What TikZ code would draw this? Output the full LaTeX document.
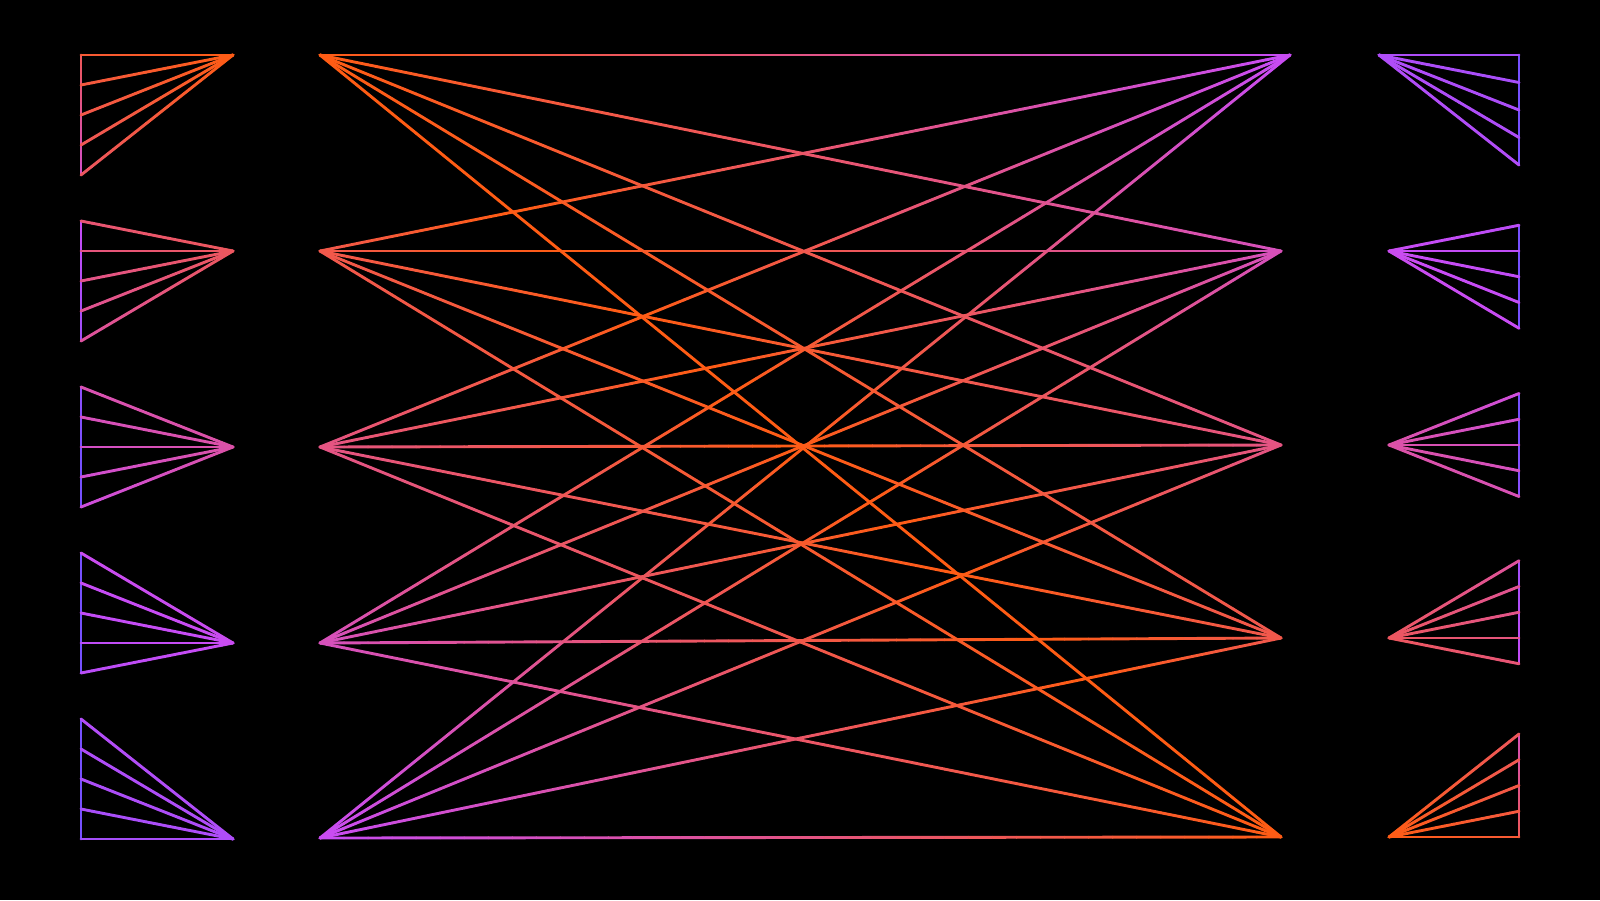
\documentclass[tikz,border=0pt]{standalone}
\usepackage{xcolor}
\usepackage{tikz}
\usetikzlibrary{calc}
\definecolor{gOrange}{RGB}{255,92,20}
\definecolor{gPurple}{RGB}{200,76,245}
\definecolor{gBlue}{RGB}{118,80,255}
\tikzset{wire/.style={line width=2.9pt,line cap=round},
         backdrop/.style={fill=black}}
% colour ramps: 0 = orange, 1 = purple, 2 = blue
\pgfmathdeclarefunction{tmid}{2}{\pgfmathparse{min(1,abs((#1-320)/961-(#2-55)/783))}}
\pgfmathdeclarefunction{tleft}{2}{\pgfmathparse{(#2-55)/784*1.3+(233-#1)/152*0.15}}
\pgfmathdeclarefunction{tleftbar}{2}{\pgfmathparse{0.3+(#2-55)*0.0042}}
\pgfmathdeclarefunction{tright}{2}{\pgfmathparse{(838-#2)/784*1.3+(#1-1389)/130*0.15}}
\pgfmathdeclarefunction{trightbar}{2}{\pgfmathparse{0.3+(838-#2)*0.0042}}
% wire from node #2 to node #3 in #1 pieces, coloured by ramp #4
\newcommand{\gradwire}[4][24]{%
  \path (#2); \pgfgetlastxy{\gax}{\gay}%
  \path (#3); \pgfgetlastxy{\gbx}{\gby}%
  \pgfmathsetmacro\ax{\gax}\pgfmathsetmacro\ay{-\gay}%
  \pgfmathsetmacro\bx{\gbx}\pgfmathsetmacro\by{-\gby}%
  \foreach \n in {1,...,#1}{%
    \pgfmathsetmacro\gs{(\n-1)/#1}%
    \pgfmathsetmacro\ge{\n/#1}%
    \pgfmathsetmacro\gm{(\n-0.5)/#1}%
    \pgfmathsetmacro\gt{max(0,min(2,#4(\ax+(\bx-\ax)*\gm,\ay+(\by-\ay)*\gm)))}%
    \ifdim\gt pt<1pt
      \pgfmathsetmacro\gp{100*\gt}\colorlet{gc}{gPurple!\gp!gOrange}%
    \else
      \pgfmathsetmacro\gp{100*(\gt-1)}\colorlet{gc}{gBlue!\gp!gPurple}%
    \fi
    \draw[wire,gc] ($(#2)!\gs!(#3)$) -- ($(#2)!\ge!(#3)$);
  }%
}

\begin{document}
\begin{tikzpicture}[x=1pt,y=-1pt]
    % Backdrop
    \fill[backdrop] (0,0) rectangle (1600,900);
    % Hubs of the middle web
    \foreach \k/\y in {1/55,2/251,3/447,4/643,5/838}
      \coordinate (L\k) at (320,\y);
    \coordinate (R1) at (1290,55);
    \foreach \k/\y in {2/251,3/445,4/638,5/837}
      \coordinate (R\k) at (1281,\y);
    % Every left hub to every right hub
    \foreach \i in {1,...,5}
      \foreach \j in {1,...,5}
        \gradwire[40]{L\i}{R\j}{tmid};
    % Left fans
    \foreach \f in {0,...,4}{
      \coordinate (lh\f) at (233,55+196*\f);
      \foreach \j in {0,...,4}
        \coordinate (lf\f\j) at (81,55+166*\f+30*\j);
      \gradwire[10]{lf\f0}{lf\f4}{tleftbar}
      \foreach \j in {0,...,4}
        \gradwire[14]{lh\f}{lf\f\j}{tleft};
    }
    % Right fans
    \foreach \f/\y/\s/\hx in {0/55/27.5/1379,1/251/25.75/1389,2/445/25.75/1389,3/638/25.75/1389,4/837/25.75/1389}{
      \coordinate (rh\f) at (\hx,\y);
      \foreach \j in {0,...,4}
        \coordinate (rf\f\j) at (1519,\y+\s*\j-\s*\f);
      \gradwire[10]{rf\f0}{rf\f4}{trightbar}
      \foreach \j in {0,...,4}
        \gradwire[14]{rh\f}{rf\f\j}{tright};
    }
\end{tikzpicture}
\end{document}
